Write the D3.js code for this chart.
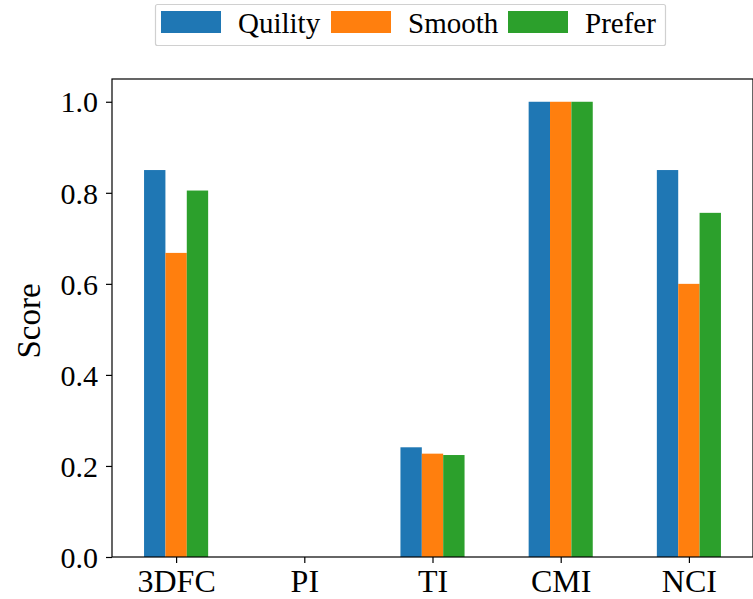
<!DOCTYPE html>
<html>
<head>
<meta charset="utf-8">
<script src="https://cdn.jsdelivr.net/npm/d3@7"></script>
<style>
  html, body { margin: 0; padding: 0; background: #fff; }
  svg { display: block; }
  text { font-family: "Liberation Serif", "Times New Roman", serif; fill: #000; }
</style>
</head>
<body>
<svg id="chart" width="753" height="599"></svg>
<script>
// Methods on the x axis
const categories = ["3DFC", "PI", "TI", "CMI", "NCI"];
// Metric series, one value per method
const seriesNames = ["Quility", "Smooth", "Prefer"];
const quility = [0.85, 0, 0.241, 1.0, 0.85];
const smooth  = [0.668, 0, 0.227, 1.0, 0.6];
const prefer  = [0.805, 0, 0.224, 1.0, 0.756];
const yTicks = [0.0, 0.2, 0.4, 0.6, 0.8, 1.0];
const colors = ["#1f77b4", "#ff7f0e", "#2ca02c"];

const series = [quility, smooth, prefer];

const plot = { left: 112, top: 79, right: 753, bottom: 557 };
const svg = d3.select("#chart");

const x = d3.scaleLinear().domain([-0.5, 4.5]).range([plot.left, plot.right]);
const y = d3.scaleLinear().domain([0, 1.05]).range([plot.bottom, plot.top]);
const barW = 1 / 6;

// Grouped bars: one group per method, one bar per metric
series.forEach((vals, si) => {
  svg.append("g")
    .selectAll("rect")
    .data(vals)
    .join("rect")
    .attr("x", (d, i) => x(i + (si - 1) * barW - barW / 2))
    .attr("width", x(barW) - x(0))
    .attr("y", d => y(d))
    .attr("height", d => y(0) - y(d))
    .attr("fill", colors[si]);
});

// Y axis
const yAxis = d3.axisLeft(y).tickValues(yTicks).tickFormat(d3.format(".1f")).tickSize(6).tickPadding(8);
const gy = svg.append("g").attr("transform", `translate(${plot.left},0)`).call(yAxis);
gy.select(".domain").remove();
gy.selectAll(".tick line").attr("stroke", "#000").attr("stroke-width", 1.2);
gy.selectAll(".tick text").style("font-size", "30px").attr("dy", "0.34em");

// X axis
const xAxis = d3.axisBottom(x).tickValues(d3.range(categories.length)).tickFormat(i => categories[i]).tickSize(6).tickPadding(5);
const gx = svg.append("g").attr("transform", `translate(0,${plot.bottom})`).call(xAxis);
gx.select(".domain").remove();
gx.selectAll(".tick line").attr("stroke", "#000").attr("stroke-width", 1.2);
gx.selectAll(".tick text").style("font-size", "32px").attr("y", 35).attr("dy", null);

// Frame
svg.append("rect")
  .attr("x", plot.left).attr("y", plot.top)
  .attr("width", plot.right - plot.left).attr("height", plot.bottom - plot.top)
  .attr("fill", "none").attr("stroke", "#000").attr("stroke-width", 1.2);

// Y label
svg.append("text")
  .attr("transform", `translate(40,${(plot.top + plot.bottom) / 2 + 3}) rotate(-90)`)
  .attr("text-anchor", "middle")
  .style("font-size", "33px")
  .text("Score");

// Legend
const leg = svg.append("g");
leg.append("rect")
  .attr("x", 155.5).attr("y", 4.5).attr("width", 510).attr("height", 41)
  .attr("rx", 2).attr("fill", "#fff").attr("stroke", "#d0d0d0").attr("stroke-width", 1.2);
const legX = [161, 331, 508];
seriesNames.forEach((name, i) => {
  leg.append("rect").attr("x", legX[i]).attr("y", 11).attr("width", 60).attr("height", 22).attr("fill", colors[i]);
  leg.append("text").attr("x", legX[i] + 77).attr("y", 33).style("font-size", "29px").text(name);
});
</script>
</body>
</html>
